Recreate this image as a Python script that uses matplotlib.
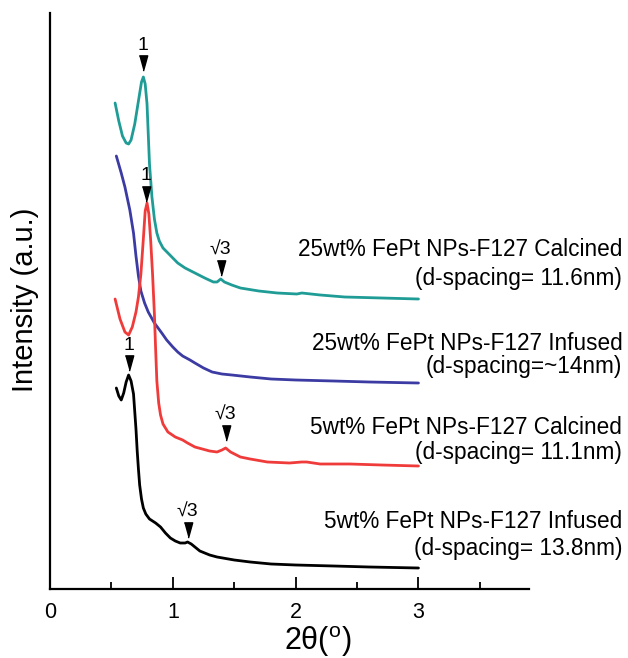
import matplotlib
matplotlib.use("Agg")
import matplotlib.pyplot as plt
from matplotlib.ticker import MultipleLocator

plt.rcParams['font.family'] = ['Liberation Sans', 'DejaVu Sans']
plt.rcParams['mathtext.fontset'] = 'custom'
plt.rcParams['mathtext.rm'] = 'Liberation Sans'

# ---- data (intensity in arbitrary units, offset stacked) ----
x_calc25 = [0.53, 0.56, 0.59, 0.62, 0.64, 0.66, 0.69, 0.72, 0.745, 0.76, 0.775, 0.79, 0.80, 0.81, 0.83,
            0.85, 0.87, 0.89, 0.92, 0.96, 1.00, 1.04, 1.10, 1.18, 1.26, 1.33, 1.36, 1.39, 1.42, 1.48,
            1.55, 1.70, 1.85, 2.01, 2.05, 2.2, 2.4, 2.7, 3.0]
y_calc25 = [486, 468, 453, 446, 445, 449, 465, 488, 507, 512, 505, 485, 455, 425, 392,
            370, 356, 348, 341, 336, 331, 326, 321, 316, 311, 307, 307, 310, 307, 304,
            301, 298, 296, 295, 296, 294, 292, 291, 290]

x_inf25 = [0.54, 0.58, 0.61, 0.65, 0.68, 0.70, 0.72, 0.74, 0.77, 0.80, 0.85, 0.91, 0.95, 1.00,
           1.04, 1.08, 1.11, 1.14, 1.18, 1.25, 1.32, 1.40, 1.48, 1.63, 1.8, 2.0, 2.31, 2.6, 3.0]
y_inf25 = [433, 416, 402, 379, 356, 333, 313, 298, 286, 277, 266, 256, 249, 242,
           237, 233, 231, 229, 226, 221, 217, 215, 214, 212, 210, 209, 208, 207, 206]

x_calc5 = [0.53, 0.57, 0.61, 0.64, 0.67, 0.70, 0.72, 0.74, 0.76, 0.775, 0.79, 0.805, 0.82, 0.835,
           0.85, 0.86, 0.87, 0.885, 0.90, 0.92, 0.96, 1.02, 1.08, 1.12, 1.18, 1.24, 1.30, 1.36,
           1.40, 1.43, 1.47, 1.55, 1.63, 1.77, 1.95, 2.05, 2.09, 2.2, 2.44, 2.7, 3.0]
y_calc5 = [290, 270, 257, 254, 262, 277, 292, 315, 350, 378, 386, 375, 348, 315,
           275, 240, 208, 186, 174, 165, 157, 152, 149, 146, 142, 140, 138, 137,
           139, 141, 137, 132, 130, 127, 126, 127, 127, 125, 125, 124, 123]

x_inf5 = [0.54, 0.56, 0.58, 0.60, 0.62, 0.64, 0.66, 0.68, 0.70, 0.71, 0.72, 0.73, 0.745, 0.76,
          0.78, 0.81, 0.86, 0.90, 0.94, 0.98, 1.02, 1.06, 1.10, 1.12, 1.15, 1.19, 1.22, 1.26,
          1.30, 1.36, 1.5, 1.63, 1.8, 2.0, 2.31, 2.6, 3.0]
y_inf5 = [201, 193, 189, 196, 207, 214, 208, 195, 160, 138, 120, 104, 90, 81,
          75, 70, 66, 62, 56, 51, 48, 46, 46, 47, 45, 41, 38, 36,
          34, 32, 29, 27, 25, 24, 23, 22, 21]

series_names = ["25wt% FePt NPs-F127 Calcined", "25wt% FePt NPs-F127 Infused",
                "5wt% FePt NPs-F127 Calcined", "5wt% FePt NPs-F127 Infused"]
series_notes = ["(d-spacing= 11.6nm)", "(d-spacing=~14nm)",
                "(d-spacing= 11.1nm)", "(d-spacing= 13.8nm)"]
colors = ["#1f9c96", "#3b3ba3", "#f03b3b", "#000000"]

# peak markers: (x, marker y, label)
peak_x = [0.76, 0.78, 0.64, 1.39, 1.43, 1.12]
peak_y = [526, 395, 226, 321, 156, 59]
peak_lbl = ["1", "1", "1", "√3", "√3", "√3"]

xticks = [0, 1, 2, 3]

fig = plt.figure(figsize=(6.28, 6.58), dpi=100)
ax = fig.add_axes([50/628, 1-589/658, (529-50)/628, (589-13)/658])

xs = [x_calc25, x_inf25, x_calc5, x_inf5]
ys = [y_calc25, y_inf25, y_calc5, y_inf5]
for xv, yv, c in zip(xs, ys, colors):
    ax.plot(xv, yv, color=c, lw=2.0, solid_joinstyle='round', solid_capstyle='round')

tri = [(-0.55, 1.0), (0.55, 1.0), (0.0, -1.0)]
for px, py, lb in zip(peak_x, peak_y, peak_lbl):
    ax.plot([px], [py], marker=tri, color='black', markersize=11, ls='none')
    ax.text(px, py + 18, lb, ha='center', va='center', fontsize=14)

# series labels on the right
lab_y1 = [339, 245, 162, 67]
lab_y2 = [311, 223, 136, 41]
for n, d, a, b in zip(series_names, series_notes, lab_y1, lab_y2):
    ax.text(4.66, a, n, ha='right', va='center', fontsize=16.3, clip_on=False)
    ax.text(4.66, b, d, ha='right', va='center', fontsize=16.3, clip_on=False)

ax.set_xlim(0, 3.9)
ax.set_ylim(0, 576)
ax.set_xticks(xticks)
ax.set_xticklabels([str(t) for t in xticks])
ax.xaxis.set_minor_locator(MultipleLocator(0.5))
ax.set_yticks([])
ax.tick_params(axis='x', which='major', direction='in', length=9, width=1.3, labelsize=15.5, pad=9)
ax.tick_params(axis='x', which='minor', direction='in', length=5, width=1.3)
for s in ['top', 'right']:
    ax.spines[s].set_visible(False)
for s in ['left', 'bottom']:
    ax.spines[s].set_linewidth(1.6)

ax.set_xlabel('2θ($^{\\rm o}$)', fontsize=22)
ax.xaxis.label.set_va('center')
ax.xaxis.set_label_coords((318 - 50) / 479, (589 - 642) / 576)
ax.set_ylabel('Intensity (a.u.)', fontsize=21)
ax.yaxis.label.set_va('center')
ax.yaxis.set_label_coords((25 - 50) / 479, (589 - 300) / 576)

fig.savefig('out.png', dpi=100)
